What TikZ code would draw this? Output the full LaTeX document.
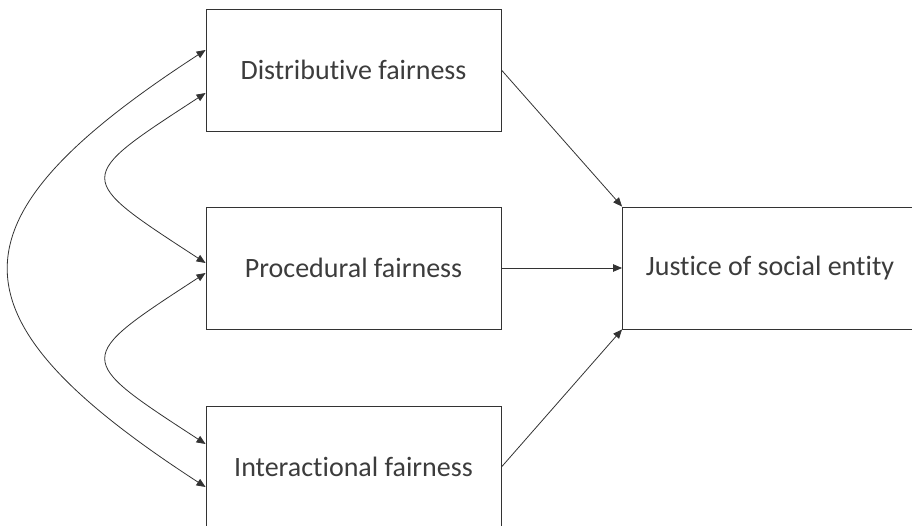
\documentclass[tikz,border=0pt]{standalone}
\usepackage{fontspec}
\setmainfont{Carlito}[Ligatures={NoCommon,NoContextual}]
\usetikzlibrary{arrows.meta}
\definecolor{linec}{HTML}{333333}
\definecolor{textc}{HTML}{3C3C3C}

\begin{document}
\begin{tikzpicture}[x=1pt,y=-1pt,
    fbox/.style={draw=linec, line width=0.9pt, minimum width=295pt,
      minimum height=122pt, inner sep=0pt, text=textc,
      font=\fontsize{28}{34}\selectfont},
    flow/.style={draw=linec, line width=0.8pt, -{Triangle[length=9pt,width=7.5pt]}},
    link/.style={draw=linec, line width=0.8pt,
      {Triangle[length=9pt,width=7.5pt]}-{Triangle[length=9pt,width=7.5pt]}}]
  \useasboundingbox (0,0) rectangle (912,525);
  \clip (0,0) rectangle (912,525);

  % ============================================================
  %                       BOXES
  % ============================================================
  \node[fbox] (dist)  at (353.5,70)  {Distributive fairness};
  \node[fbox] (proc)  at (353.5,268) {Procedural fairness};
  \node[fbox] (inter) at (353.5,467) {Interactional fairness};
  \node[fbox] (jus)   at (770,268)   {Justice of social entity};

  % ============================================================
  %                       INTO JUSTICE
  % ============================================================
  \draw[flow] (dist.east)  -- (jus.north west);
  \draw[flow] (proc.east)  -- (jus.west);
  \draw[flow] (inter.east) -- (jus.south west);

  % ============================================================
  %                       CORRELATIONS (left)
  % ============================================================
  \draw[link] ([yshift=20pt]dist.west)
    .. controls +(-262,170) and +(-262,-170) .. ([yshift=-20pt]inter.west);
  \draw[link] ([yshift=-23pt]dist.west)
    .. controls +(-132,86) and +(-132,-86) .. ([yshift=5pt]proc.west);
  \draw[link] ([yshift=-5pt]proc.west)
    .. controls +(-132,86) and +(-132,-86) .. ([yshift=23pt]inter.west);

\end{tikzpicture}
\end{document}
